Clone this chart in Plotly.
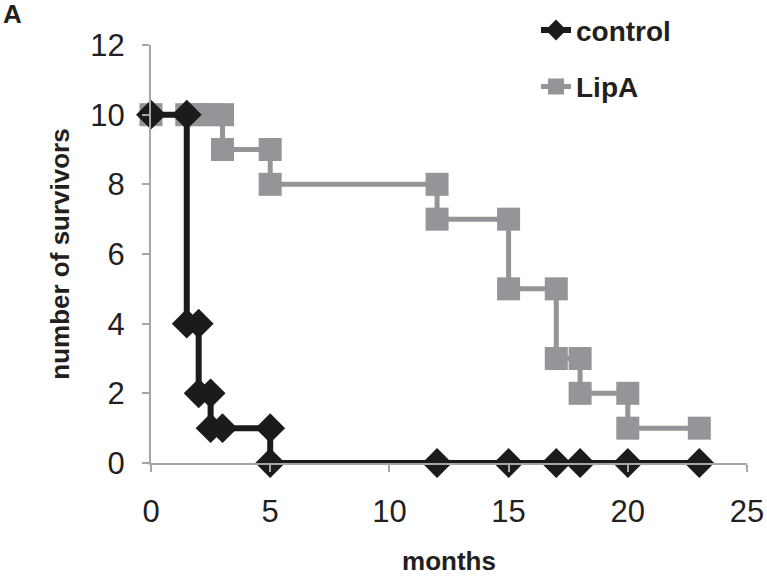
import plotly.graph_objects as go

# Data (months, number of survivors)
control_months = [0, 1.5, 1.5, 2, 2, 2.5, 2.5, 3, 5, 5, 12, 15, 17, 18, 20, 23]
control_survivors = [10, 10, 4, 4, 2, 2, 1, 1, 1, 0, 0, 0, 0, 0, 0, 0]

lipa_months = [0, 1.5, 2, 2.5, 3, 3, 5, 5, 12, 12, 15, 15, 17, 17, 18, 18, 20, 20, 23]
lipa_survivors = [10, 10, 10, 10, 10, 9, 9, 8, 8, 7, 7, 5, 5, 3, 3, 2, 2, 1, 1]

x_ticks = [0, 5, 10, 15, 20, 25]
y_ticks = [0, 2, 4, 6, 8, 10, 12]

BLACK = "#1c1a1b"
GRAY = "#939598"
AXIS = "#a6a6a6"
TXT = "#231f20"
FONT = "Liberation Sans, Arial"

fig = go.Figure()
fig.add_trace(go.Scatter(
    x=lipa_months, y=lipa_survivors, name="LipA", mode="lines+markers",
    line=dict(color=GRAY, width=5),
    marker=dict(symbol="square", size=23, color=GRAY),
    cliponaxis=False, legendgroup="b", legendrank=2,
))
fig.add_trace(go.Scatter(
    x=control_months, y=control_survivors, name="control", mode="lines+markers",
    line=dict(color=BLACK, width=6),
    marker=dict(symbol="diamond", size=23, color=BLACK),
    cliponaxis=False, legendgroup="a", legendrank=1,
))

fig.update_layout(
    width=767, height=579,
    margin=dict(l=151, r=20, t=45, b=116, autoexpand=False),
    paper_bgcolor="white", plot_bgcolor="white",
    font=dict(family=FONT, color=TXT),
    showlegend=True,
    legend=dict(
        x=0.646, y=1.095, xanchor="left", yanchor="top",
        font=dict(family=FONT, size=28, color=TXT, weight="bold"),
        tracegroupgap=17, bgcolor="rgba(0,0,0,0)",
    ),
    xaxis=dict(
        range=[0, 25], tickvals=x_ticks, ticktext=[str(v) for v in x_ticks],
        showgrid=False, zeroline=False, showline=True, linecolor=AXIS, linewidth=2,
        ticks="outside", ticklen=7, tickwidth=2, tickcolor=AXIS,
        tickfont=dict(family=FONT, size=31, color=TXT),
        ticklabelstandoff=13,
        title=dict(text="<b>months</b>", font=dict(family=FONT, size=26, color=TXT), standoff=24),
    ),
    yaxis=dict(
        range=[0, 12], tickvals=y_ticks, ticktext=[str(v) for v in y_ticks],
        showgrid=False, zeroline=False, showline=True, linecolor=AXIS, linewidth=2,
        ticks="outside", ticklen=7, tickwidth=2, tickcolor=AXIS,
        tickfont=dict(family=FONT, size=31, color=TXT),
        ticklabelstandoff=11,
        title=dict(text="<b>number of survivors</b>", font=dict(family=FONT, size=26, color=TXT), standoff=13),
    ),
    annotations=[dict(
        text="<b>A</b>", x=-0.2517, y=1.074, xref="paper", yref="paper",
        xanchor="left", yanchor="middle",
        showarrow=False, font=dict(family=FONT, size=26, color=TXT),
    )],
)

fig.write_html("out.html", config={"displayModeBar": False},
               post_script="document.body.style.margin='0';")
